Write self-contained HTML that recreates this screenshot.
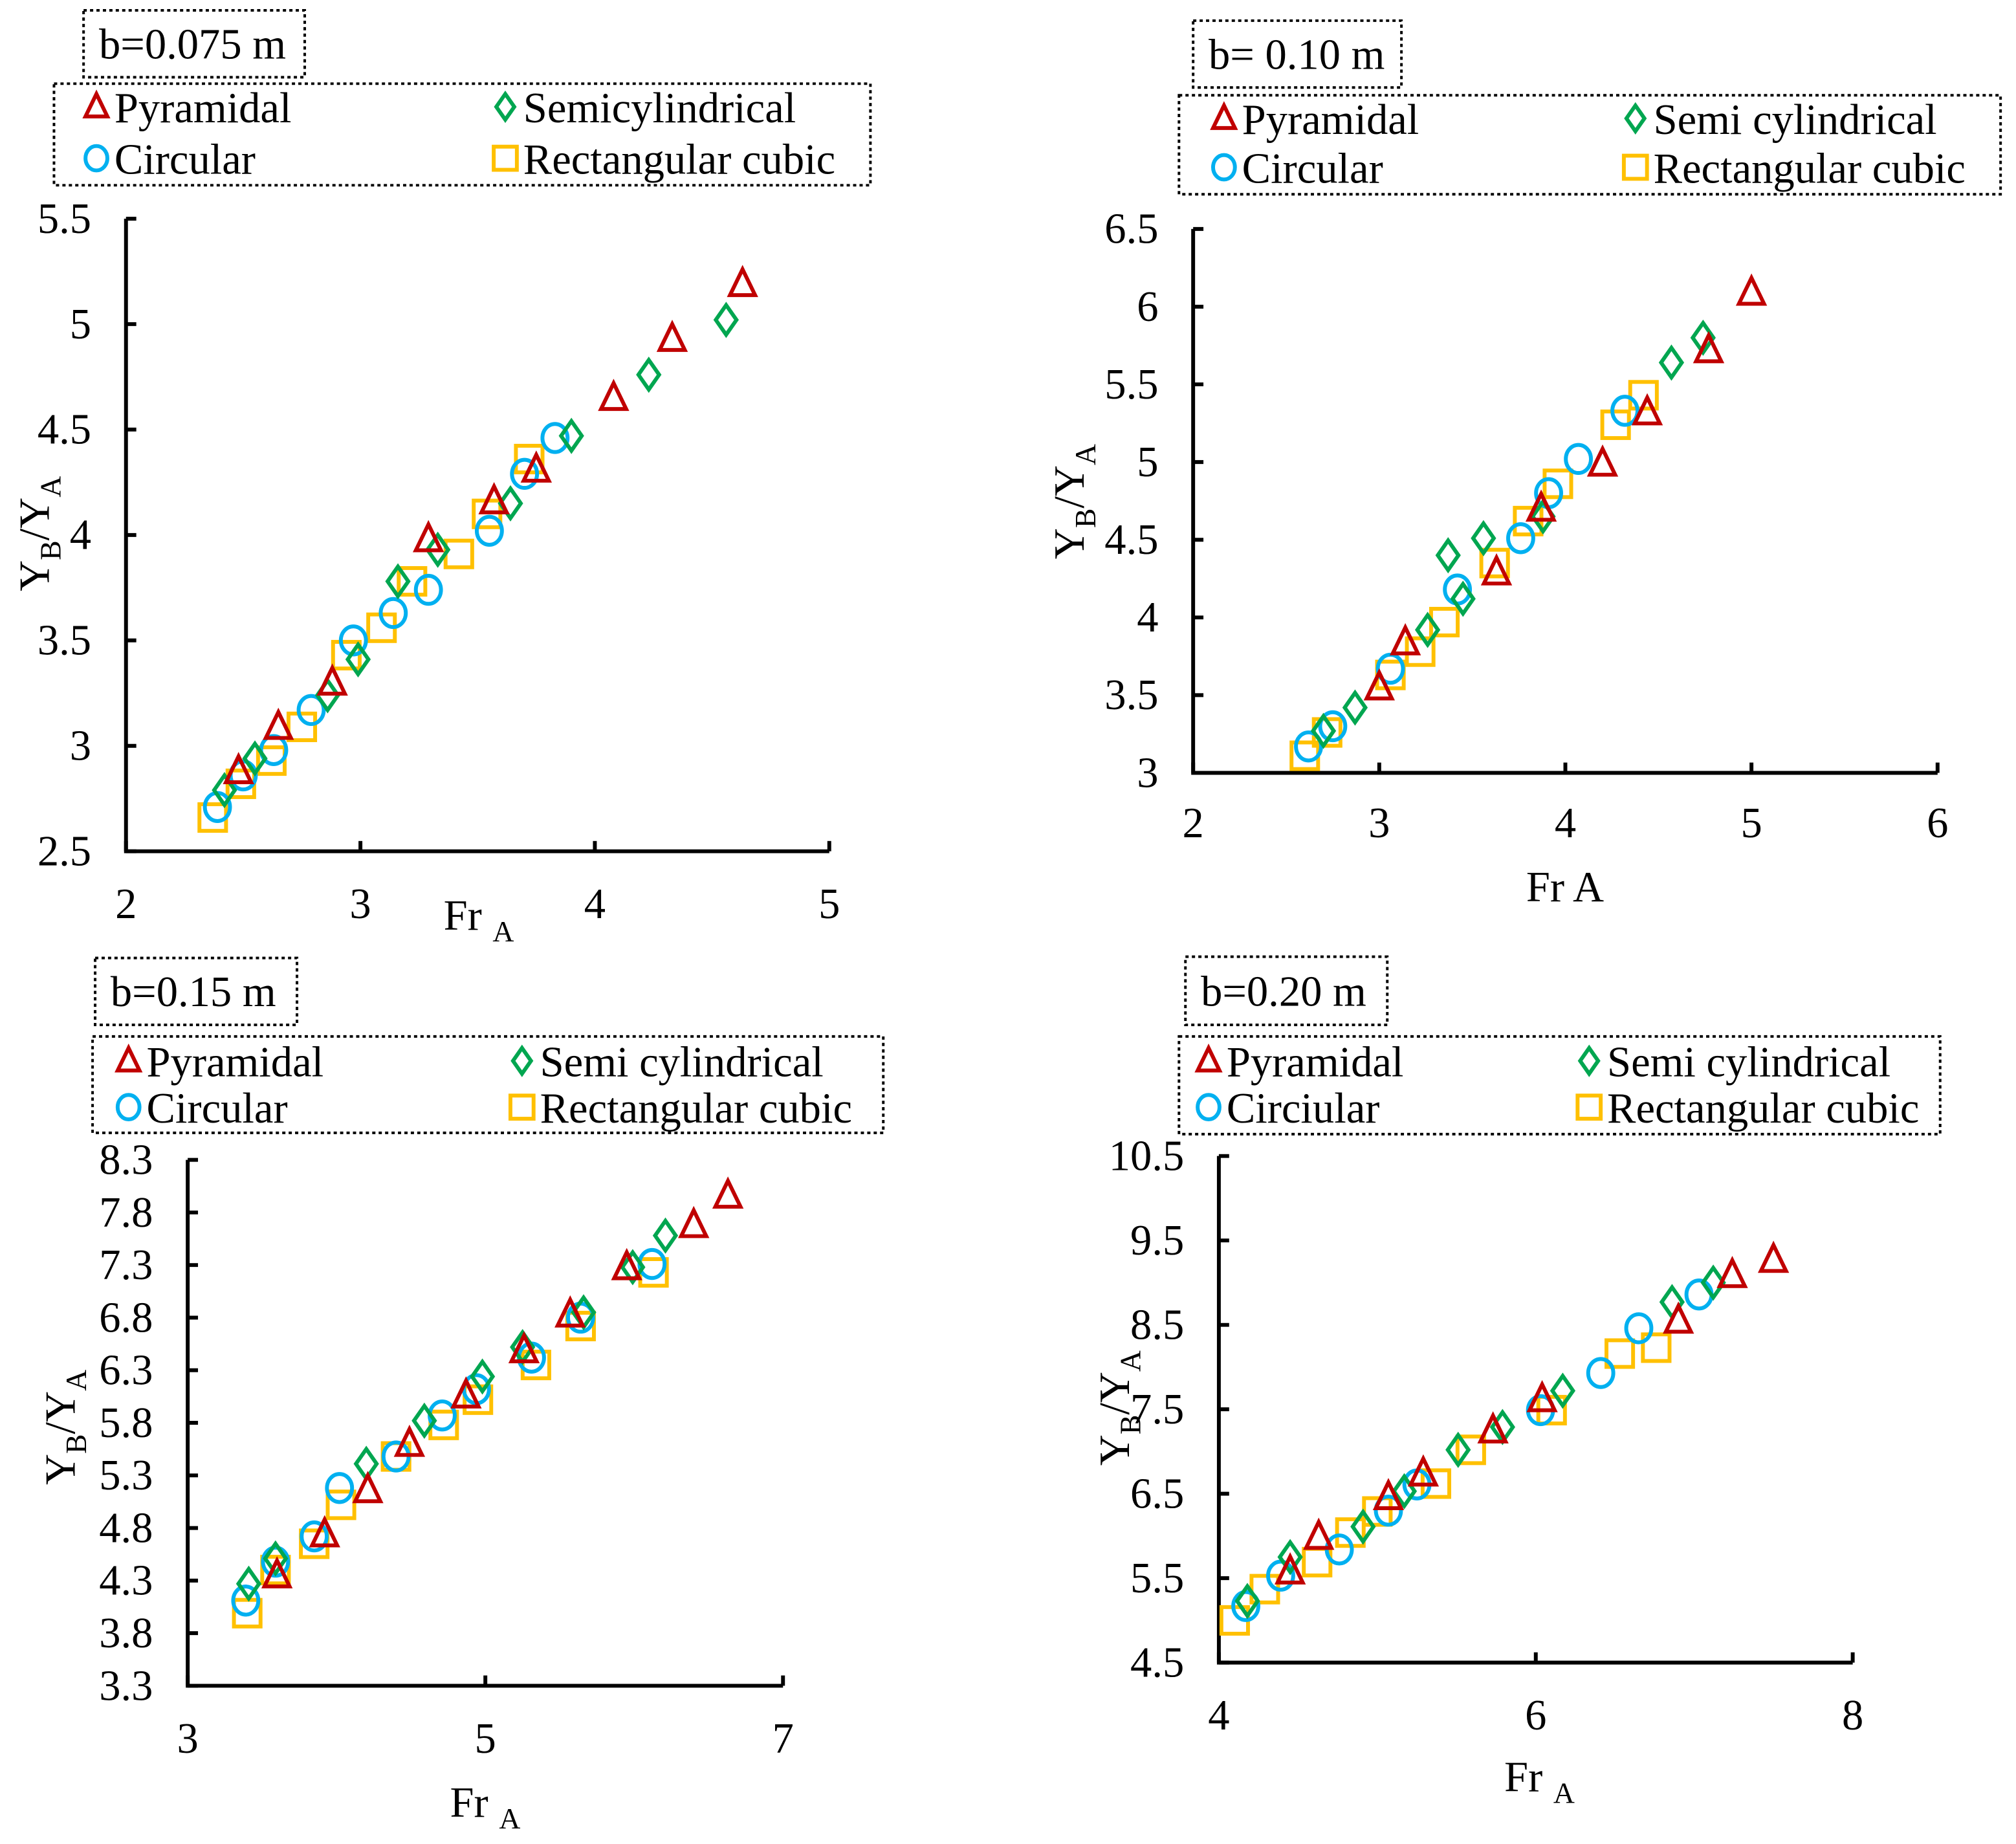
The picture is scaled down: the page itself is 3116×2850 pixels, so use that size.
<!DOCTYPE html>
<html><head><meta charset="utf-8"><style>
html,body{margin:0;padding:0;background:#fff;}
svg{display:block;}
text{font-family:"Liberation Serif",serif;fill:#000;}
</style></head><body>
<svg id="chart" width="3116" height="2850" viewBox="0 0 1568 1434" xmlns="http://www.w3.org/2000/svg">
</svg>
<script>
// Panel 1 (b=0.075 m)
const p1PyrX=[4.63,4.33,4.08,3.75,3.57,3.29,2.88,2.65,2.48];
const p1PyrY=[5.19,4.93,4.65,4.31,4.16,3.98,3.30,3.09,2.88];
const p1SemX=[4.56,4.23,3.90,3.64,3.33,3.16,2.99,2.86,2.55,2.42];
const p1SemY=[5.02,4.76,4.47,4.15,3.93,3.78,3.41,3.24,2.94,2.79];
const p1CirX=[3.83,3.70,3.55,3.29,3.14,2.97,2.79,2.63,2.50,2.39];
const p1CirY=[4.46,4.29,4.02,3.74,3.63,3.50,3.17,2.98,2.86,2.71];
const p1RecX=[3.72,3.54,3.42,3.22,3.09,2.94,2.75,2.62,2.49,2.37];
const p1RecY=[4.36,4.10,3.91,3.78,3.56,3.43,3.09,2.93,2.82,2.66];
const p1XTicks=[2,3,4,5];
const p1YTicks=[2.5,3,3.5,4,4.5,5,5.5];
// Panel 2 (b=0.10 m)
const p2PyrX=[5.0,4.77,4.44,4.20,3.87,3.63,3.14,3.0];
const p2PyrY=[6.09,5.72,5.32,4.99,4.70,4.29,3.84,3.55];
const p2SemX=[4.74,4.57,3.88,3.56,3.45,3.37,3.26,2.87,2.70];
const p2SemY=[5.80,5.64,4.65,4.51,4.12,4.40,3.92,3.42,3.27];
const p2CirX=[4.32,4.07,3.91,3.76,3.42,3.06,2.75,2.62];
const p2CirY=[5.33,5.02,4.80,4.51,4.18,3.67,3.30,3.17];
const p2RecX=[4.42,4.27,3.96,3.80,3.62,3.35,3.22,3.06,2.72,2.60];
const p2RecY=[5.43,5.24,4.86,4.62,4.35,3.97,3.78,3.63,3.26,3.11];
const p2XTicks=[2,3,4,5,6];
const p2YTicks=[3,3.5,4,4.5,5,5.5,6,6.5];
// Panel 3 (b=0.15 m)
const p3PyrX=[6.63,6.40,5.95,5.57,5.26,4.87,4.49,4.21,3.92,3.60];
const p3PyrY=[7.96,7.68,7.28,6.83,6.49,6.06,5.60,5.16,4.74,4.35];
const p3SemX=[6.21,5.99,5.66,5.25,4.98,4.59,4.20,3.59,3.41];
const p3SemY=[7.58,7.28,6.85,6.52,6.24,5.82,5.41,4.51,4.27];
const p3CirX=[6.12,5.64,5.31,4.94,4.71,4.40,4.02,3.85,3.59,3.39];
const p3CirY=[7.31,6.80,6.42,6.12,5.87,5.48,5.18,4.72,4.48,4.11];
const p3RecX=[6.13,5.64,5.34,4.95,4.72,4.40,4.03,3.85,3.59,3.40];
const p3RecY=[7.23,6.72,6.35,6.02,5.78,5.48,5.02,4.65,4.40,3.99];
const p3XTicks=[3,5,7];
const p3YTicks=[3.3,3.8,4.3,4.8,5.3,5.8,6.3,6.8,7.3,7.8,8.3];
// Panel 4 (b=0.20 m)
const p4PyrX=[7.50,7.24,6.90,6.04,5.73,5.29,5.07,4.63,4.45];
const p4PyrY=[9.27,9.09,8.55,7.62,7.25,6.74,6.46,5.99,5.58];
const p4SemX=[7.12,6.86,6.17,5.79,5.51,5.17,4.91,4.45,4.18];
const p4SemY=[9.00,8.77,7.72,7.29,7.02,6.53,6.11,5.75,5.23];
const p4CirX=[7.03,6.65,6.41,6.03,5.25,5.07,4.76,4.39,4.17];
const p4CirY=[8.86,8.46,7.93,7.49,6.61,6.30,5.84,5.53,5.17];
const p4RecX=[6.76,6.53,6.10,5.59,5.37,5.00,4.83,4.62,4.29,4.10];
const p4RecY=[8.23,8.16,7.49,7.02,6.62,6.29,6.04,5.69,5.37,5.00];
const p4XTicks=[4,6,8];
const p4YTicks=[4.5,5.5,6.5,7.5,8.5,9.5,10.5];

const NS="http://www.w3.org/2000/svg";
const svg=document.getElementById('chart');
const C={pyr:'#c00000',sem:'#00a650',cir:'#00b0f0',rec:'#ffc000'};
const FS=33.5;
function mk(tag,attrs,parent){const e=document.createElementNS(NS,tag);for(const k in attrs)e.setAttribute(k,attrs[k]);(parent||svg).appendChild(e);return e;}
function marker(g,type,cx,cy,s){
  let e;
  if(type==='pyr'){e=mk('polygon',{points:`${cx},${cy-s} ${cx-s*0.85},${cy+s*0.75} ${cx+s*0.85},${cy+s*0.75}`,fill:'none',stroke:C.pyr,'stroke-width':3},g);}
  else if(type==='sem'){e=mk('polygon',{points:`${cx},${cy-s} ${cx+s*0.7},${cy} ${cx},${cy+s} ${cx-s*0.7},${cy}`,fill:'none',stroke:C.sem,'stroke-width':3},g);}
  else if(type==='cir'){e=mk('ellipse',{cx:cx,cy:cy,rx:s*0.85,ry:s*0.95,fill:'none',stroke:C.cir,'stroke-width':3},g);}
  else {e=mk('rect',{x:cx-s*0.9,y:cy-s*0.9,width:s*1.8,height:s*1.8,fill:'none',stroke:C.rec,'stroke-width':3},g);}
  return e;
}
function panel(o){
  const g=mk('g',{});
  
  
  const sx=v=>o.x0+(v-o.xmin)/(o.xmax-o.xmin)*(o.x1-o.x0);
  const sy=v=>o.y0-(v-o.ymin)/(o.ymax-o.ymin)*(o.y0-o.y1);
  const tb=mk('rect',{x:o.tb[0],y:o.tb[1],width:o.tb[2],height:o.tb[3],fill:'none',stroke:'#000','stroke-width':2,'stroke-dasharray':'2.5,2.5'},g);
  
  const tt=mk('text',{x:o.tb[0]+12,y:o.tb[1]+o.tb[3]*0.72,'font-size':FS},g);tt.textContent=o.title;
  
  const lb=mk('rect',{x:o.lb[0],y:o.lb[1],width:o.lb[2],height:o.lb[3],fill:'none',stroke:'#000','stroke-width':2,'stroke-dasharray':'2.5,2.5'},g);
  
  const ents=[['pyr','Pyramidal',o.lc[0],o.lr[0]],['sem',o.semName,o.lc[1],o.lr[0]],['cir',o.cirName,o.lc[0],o.lr[1]],['rec','Rectangular cubic',o.lc[1],o.lr[1]]];
  ents.forEach(en=>{
    const le=mk('g',{},g);
    
    
    marker(le,en[0],en[2],en[3]-1,10);
    const t=mk('text',{x:en[2]+14,y:en[3]+11,'font-size':FS},le);t.textContent=en[1];
  });
  const ax=mk('path',{d:`M${o.x0},${o.y1}V${o.y0}H${o.x1}`,fill:'none',stroke:'#000','stroke-width':3},g);
  
  o.xt.forEach(v=>{
    const x=sx(v);
    mk('line',{x1:x,y1:o.y0,x2:x,y2:o.y0-8,stroke:'#000','stroke-width':3},g);
    const t=mk('text',{x:x,y:o.y0+o.xtOff,'font-size':FS,'text-anchor':'middle'},g);t.textContent=v;
    
  });
  o.yt.forEach(v=>{
    const y=sy(v);
    mk('line',{x1:o.x0,y1:y,x2:o.x0+8,y2:y,stroke:'#000','stroke-width':3},g);
    const t=mk('text',{x:o.x0-27,y:y+11,'font-size':FS,'text-anchor':'end'},g);t.textContent=v;
    
  });
  const xl=mk('text',{x:o.xl[0],y:o.xl[1],'font-size':FS},g);
  
  if(o.xsub){xl.innerHTML='Fr <tspan font-size="23" dy="9">A</tspan>';}else{xl.textContent='Fr A';}
  const yl=mk('text',{x:0,y:0,'font-size':FS,transform:`translate(${o.yl[0]},${o.yl[1]}) rotate(-90)`,'text-anchor':'middle'},g);
  
  yl.innerHTML='Y<tspan font-size="23" dy="9">B</tspan><tspan dy="-9">/Y</tspan><tspan font-size="23" dy="9">A</tspan>';
  const series=[['rec',o.rec],['cir',o.cir],['sem',o.sem],['pyr',o.pyr]];
  series.forEach(s=>{
    const sg=mk('g',{},g);
    
    
    s[1][0].forEach((xv,i)=>{
      const m=marker(sg,s[0],sx(xv),sy(s[1][1][i]),11.5);
      
      
    });
  });
}
panel({id:'panel-b0075',x0:98,x1:645,y0:662,y1:170,xmin:2,xmax:5,ymin:2.5,ymax:5.5,xt:p1XTicks,yt:p1YTicks,xtOff:52,
  tb:[65,8,172,52],title:'b=0.075 m',lb:[42,65,635,79],lc:[75,393],lr:[84,124],semName:'Semicylindrical',cirName:'Circular',
  xl:[345,723],xsub:true,yl:[38,415],pyr:[p1PyrX,p1PyrY],sem:[p1SemX,p1SemY],cir:[p1CirX,p1CirY],rec:[p1RecX,p1RecY]});
panel({id:'panel-b010',x0:928,x1:1507,y0:601,y1:178,xmin:2,xmax:6,ymin:3,ymax:6.5,xt:p2XTicks,yt:p2YTicks,xtOff:50,
  tb:[928,16,162,52],title:'b= 0.10 m',lb:[917,74,639,77],lc:[952,1272],lr:[93,131],semName:'Semi cylindrical',cirName:'Circular',
  xl:[1187,701],xsub:false,yl:[843,390],pyr:[p2PyrX,p2PyrY],sem:[p2SemX,p2SemY],cir:[p2CirX,p2CirY],rec:[p2RecX,p2RecY]});
panel({id:'panel-b015',x0:146,x1:609,y0:1311,y1:902,xmin:3,xmax:7,ymin:3.3,ymax:8.3,xt:p3XTicks,yt:p3YTicks,xtOff:52,
  tb:[74,745,157,52],title:'b=0.15 m',lb:[72,806,615,75],lc:[100,406],lr:[826,862],semName:'Semi cylindrical',cirName:'Circular',
  xl:[350,1413],xsub:true,yl:[58,1110],pyr:[p3PyrX,p3PyrY],sem:[p3SemX,p3SemY],cir:[p3CirX,p3CirY],rec:[p3RecX,p3RecY]});
panel({id:'panel-b020',x0:948,x1:1441,y0:1293,y1:899,xmin:4,xmax:8,ymin:4.5,ymax:10.5,xt:p4XTicks,yt:p4YTicks,xtOff:52,
  tb:[922,744,157,53],title:'b=0.20 m',lb:[917,806,592,76],lc:[940,1236],lr:[826,862],semName:'Semi cylindrical',cirName:'Circiular',
  xl:[1170,1393],xsub:true,yl:[878,1095],pyr:[p4PyrX,p4PyrY],sem:[p4SemX,p4SemY],cir:[p4CirX,p4CirY],rec:[p4RecX,p4RecY]});
</script>
</body></html>
